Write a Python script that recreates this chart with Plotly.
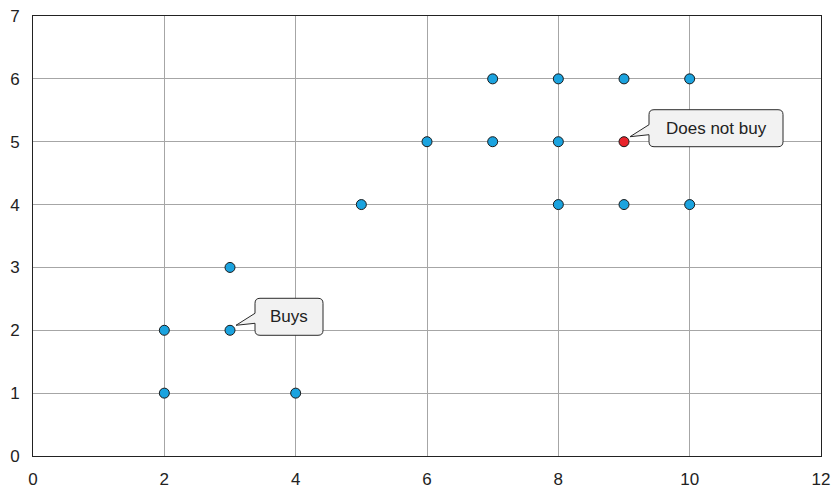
import plotly.graph_objects as go

buy_x = [2, 2, 3, 3, 4, 5, 6, 7, 7, 8, 8, 8, 9, 9, 10, 10]
buy_y = [1, 2, 2, 3, 1, 4, 5, 5, 6, 4, 5, 6, 4, 6, 4, 6]
nobuy_x = [9]
nobuy_y = [5]
x_ticks = [0, 2, 4, 6, 8, 10, 12]
y_ticks = [0, 1, 2, 3, 4, 5, 6, 7]
callouts = [
    {"x": 3, "y": 2, "text": "Buys"},
    {"x": 9, "y": 5, "text": "Does not buy"},
]

fig = go.Figure()
fig.add_trace(go.Scatter(x=buy_x, y=buy_y, mode="markers",
                         marker=dict(size=10, color="#1ba3df", line=dict(color="#1a1a1a", width=1)),
                         showlegend=False, hoverinfo="skip"))
fig.add_trace(go.Scatter(x=nobuy_x, y=nobuy_y, mode="markers",
                         marker=dict(size=10, color="#e8232b", line=dict(color="#1a1a1a", width=1)),
                         showlegend=False, hoverinfo="skip"))


def callout_path(w, h, r=5, tip=(6, 5)):
    # pixel coords relative to the anchor point; y positive is up
    L, R = 25, 25 + w
    B, T = -5, -5 + h
    tx, ty = tip
    return (f"M{L},{T - r} L{L},{ty + 12} L{tx},{ty} L{L},{ty + 2} L{L},{B + r} "
            f"Q{L},{B} {L + r},{B} L{R - r},{B} Q{R},{B} {R},{B + r} "
            f"L{R},{T - r} Q{R},{T} {R - r},{T} L{L + r},{T} Q{L},{T} {L},{T - r} Z")


for c in callouts:
    w = 68 if len(c["text"]) < 6 else 134
    h = 37
    fig.add_shape(type="path", xref="x", yref="y", xsizemode="pixel", ysizemode="pixel",
                  xanchor=c["x"], yanchor=c["y"], path=callout_path(w, h),
                  fillcolor="#f2f2f2", line=dict(color="#2a2a2a", width=1), layer="above")
    fig.add_annotation(x=c["x"], y=c["y"], xref="x", yref="y", text=c["text"],
                       showarrow=False, xshift=25 + w / 2, yshift=-5 + h / 2,
                       font=dict(family="Liberation Sans, Arial", size=17, color="#222"))

axis_common = dict(showgrid=True, gridcolor="#a6a6a6", gridwidth=1, zeroline=False,
                   showline=True, linecolor="#222", linewidth=1, mirror=True, automargin=False,
                   ticks="",
                   tickfont=dict(family="Liberation Sans, Arial", size=17, color="#222"))
fig.update_xaxes(range=[0, 12], tickvals=x_ticks, ticklabelstandoff=8, **axis_common)
fig.update_yaxes(range=[0, 7], tickvals=y_ticks, ticklabelstandoff=9, **axis_common)

fig.update_layout(width=832, height=489, margin=dict(l=33, r=11, t=16, b=33, autoexpand=False),
                  plot_bgcolor="white", paper_bgcolor="white")

fig.write_html("out.html", config={"displayModeBar": False},
               post_script="document.body.style.margin='0';document.body.style.overflow='hidden';")
